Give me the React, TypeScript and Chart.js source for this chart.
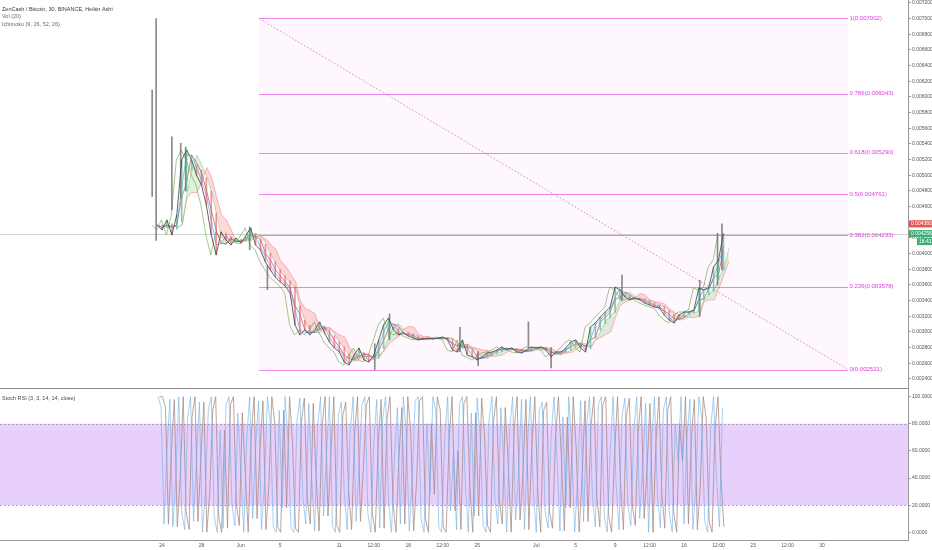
import React, { useEffect, useRef } from "react";
import { Chart, registerables } from "chart.js";
Chart.register(...registerables);

const FONT = '"Liberation Sans", Arial, sans-serif';

// ---- price data (Heikin Ashi closes, 12h sampling, day-of-May units) ----
const PRICE_START_DAY = 23.5;
const PRICE_STEP = 0.5;
const CLOSE = [
  0.004366, 0.004302, 0.00443, 0.004238, 0.004494, 0.005196, 0.005323, 0.005196, 0.005004, 0.004877,
  0.004621, 0.004238, 0.003983, 0.004277, 0.004174, 0.004111, 0.0042, 0.004136, 0.004226, 0.004328,
  0.004111, 0.004047, 0.003894, 0.003792, 0.003702, 0.003638, 0.003587, 0.003498, 0.00309, 0.002962,
  0.003026, 0.002962, 0.003026, 0.003128, 0.002987, 0.002872, 0.002796, 0.002745, 0.002617, 0.002579,
  0.002706, 0.002796, 0.002643, 0.002617, 0.002706, 0.002898, 0.00309, 0.003179, 0.003026, 0.002962,
  0.002987, 0.002949, 0.002923, 0.002898, 0.00291, 0.002923, 0.00291, 0.002923, 0.002936, 0.002898,
  0.00277, 0.002745, 0.002898, 0.002706, 0.002681, 0.002643, 0.002681, 0.002732, 0.002745, 0.00277,
  0.002809, 0.00277, 0.002796, 0.002745, 0.002732, 0.00277, 0.002809, 0.002796, 0.002809, 0.00277,
  0.002681, 0.002745, 0.002745, 0.002796, 0.002872, 0.002898, 0.002796, 0.002745, 0.003064, 0.003115,
  0.003191, 0.003255, 0.003319, 0.003574, 0.003536, 0.003447, 0.003409, 0.003434, 0.003409, 0.00337,
  0.003345, 0.003319, 0.003306, 0.003217, 0.003153, 0.003115, 0.003217, 0.003255, 0.003255, 0.003281,
  0.003562, 0.003536, 0.003562, 0.00383, 0.003919, 0.004256,
];
// notable wicks: [day, low, high]
const WICKS: [number, number, number][] = [
  [23.0, 0.00473, 0.00609],
  [23.4, 0.00417, 0.007],
  [25.0, 0.00456, 0.00549],
  [25.9, 0.0047, 0.00541],
  [26.4, 0.0048, 0.00536],
  [32.9, 0.00405, 0.00434],
  [34.7, 0.00354, 0.00385],
  [45.6, 0.00252, 0.00285],
  [47.1, 0.0029, 0.00323],
  [54.25, 0.00275, 0.00306],
  [56.1, 0.00257, 0.00275],
  [61.2, 0.0028, 0.00313],
  [63.5, 0.00254, 0.0028],
  [70.7, 0.0034, 0.00373],
  [78.6, 0.0032, 0.00366],
  [80.4, 0.0036, 0.00426],
  [80.85, 0.00379, 0.00438],
];

const FIB_LEVELS = [1, 0.786, 0.618, 0.5, 0.382, 0.236, 0];
const FIB_PRICES = [0.007002, 0.006043, 0.00529, 0.004761, 0.004233, 0.003578, 0.002521];
const FIB_FROM_DAY = 33.85;
const FIB_TO_DAY = 93.65;

const LAST_PRICE = 0.004256;
const HIGH_PRICE = 0.00438;
const COUNTDOWN = "18:41";

const PRICE_TICKS = [
  0.0024, 0.0026, 0.0028, 0.003, 0.0032, 0.0034, 0.0036, 0.0038, 0.004, 0.0042, 0.0044, 0.0046,
  0.0048, 0.005, 0.0052, 0.0054, 0.0056, 0.0058, 0.006, 0.0062, 0.0064, 0.0066, 0.0068, 0.007, 0.0072,
];

// ---- Stoch RSI %K ----
const STOCH_START_DAY = 23.6;
const STOCH_STEP = 0.3;
const STOCH_K = [
  100, 92, 6, 60, 98, 4, 40, 100, 15, 2,
  85, 100, 8, 55, 96, 0, 30, 90, 100, 12,
  0, 75, 3, 94, 100, 20, 5, 88, 45, 0,
  70, 100, 10, 62, 97, 2, 35, 100, 80, 4,
  0, 90, 18, 100, 66, 3, 0, 82, 99, 25,
  6, 95, 40, 1, 78, 100, 12, 58, 100, 5,
  0, 86, 96, 30, 2, 72, 100, 8, 48, 94,
  100, 14, 0, 65, 98, 3, 84, 100, 22, 0,
  55, 92, 6, 100, 74, 1, 38, 97, 100, 10,
  0, 80, 28, 100, 90, 4, 0, 68, 100, 16,
  60, 2, 95, 100, 35, 0, 88, 12, 99, 70,
  5, 0, 82, 100, 24, 6, 92, 50, 0, 76,
  100, 9, 44, 98, 2, 64, 100, 30, 0, 90,
  96, 15, 3, 70, 100, 55, 1, 85, 18, 100,
  62, 0, 40, 97, 8, 78, 100, 26, 4, 94,
  100, 12, 0, 58, 100, 36, 2, 86, 99, 20,
  5, 74, 100, 10, 48, 95, 0, 66, 100, 28,
  3, 90, 100, 15, 0, 80, 52, 100, 6, 70,
  98, 2, 34, 100, 84, 8, 0, 76, 100, 40,
  4, 92,
];
const STOCH_TICKS = [0, 20, 40, 60, 80, 100];
const STOCH_BAND = [20, 80];

const TIME_TICKS = [24, 28, 32, 36, 42, 45.5, 49, 52.5, 56, 62, 66, 70, 73.5, 77, 80.5, 84, 87.5, 91];
const TIME_LABELS = ["24", "28", "Jun", "5", "11", "12:00", "18", "12:00", "25", "Jul", "5", "9", "12:00", "16", "12:00", "23", "12:00", "30"];

const X_MIN = 7.55;
const X_MAX = 99.74;
const PRICE_MIN = 0.002285;
const PRICE_MAX = 0.007238;
const STOCH_MIN = -5.7;
const STOCH_MAX = 106.4;
const AXIS_W = 24;

function midRange(arr: number[], i: number, n: number) {
  let hi = -Infinity;
  let lo = Infinity;
  for (let k = Math.max(0, i - n + 1); k <= i; k++) {
    hi = Math.max(hi, arr[k]);
    lo = Math.min(lo, arr[k]);
  }
  return (hi + lo) / 2;
}

export default function App() {
  const topRef = useRef<HTMLCanvasElement>(null);
  const botRef = useRef<HTMLCanvasElement>(null);

  useEffect(() => {
    document.body.style.margin = "0";
    const days = CLOSE.map((_, i) => PRICE_START_DAY + i * PRICE_STEP);
    const SHIFT = 0.55;
    const opens: number[] = [];
    CLOSE.forEach((c, i) => {
      opens.push(i === 0 ? c : (opens[i - 1] + CLOSE[i - 1]) / 2);
    });
    const tenkan = CLOSE.map((_, i) => midRange(CLOSE, i, 2));
    const kijun = CLOSE.map((_, i) => midRange(CLOSE, i, 3));
    const spanA = CLOSE.map((_, i) => ({ x: days[i] + SHIFT, y: (tenkan[i] + kijun[i]) / 2 }));
    const spanB = CLOSE.map((_, i) => ({ x: days[i] + SHIFT, y: midRange(CLOSE, i, 5) }));

    const lineBase = { pointRadius: 0, borderWidth: 1, tension: 0, fill: false };

    const topPlugin = {
      id: "topDecor",
      beforeDatasetsDraw(chart: any) {
        const { ctx, chartArea, scales } = chart;
        const x = scales.x;
        const y = scales.y;
        const x1 = x.getPixelForValue(FIB_FROM_DAY);
        const x2 = x.getPixelForValue(FIB_TO_DAY);
        const yT = y.getPixelForValue(FIB_PRICES[0]);
        const yB = y.getPixelForValue(FIB_PRICES[FIB_PRICES.length - 1]);
        ctx.save();
        ctx.fillStyle = "rgba(236, 64, 236, 0.045)";
        ctx.fillRect(x1, yT, x2 - x1, yB - yT);
        const yl = Math.round(y.getPixelForValue(LAST_PRICE)) + 0.5;
        ctx.strokeStyle = "rgba(140,140,140,0.4)";
        ctx.lineWidth = 1;
        ctx.beginPath();
        ctx.moveTo(chartArea.left, yl);
        ctx.lineTo(chartArea.right, yl);
        ctx.stroke();
        ctx.strokeStyle = "rgba(232, 90, 232, 0.75)";
        FIB_PRICES.forEach((p) => {
          const yy = Math.round(y.getPixelForValue(p)) + 0.5;
          ctx.beginPath();
          ctx.moveTo(x1, yy);
          ctx.lineTo(x2, yy);
          ctx.stroke();
        });
        ctx.restore();
      },
      afterDatasetsDraw(chart: any) {
        const { ctx, scales } = chart;
        const x = scales.x;
        const y = scales.y;
        const x2 = x.getPixelForValue(FIB_TO_DAY);
        ctx.save();
        ctx.font = `6px ${FONT}`;
        ctx.fillStyle = "#e03ce0";
        ctx.textBaseline = "middle";
        ctx.textAlign = "left";
        FIB_PRICES.forEach((p, i) => {
          ctx.fillText(`${FIB_LEVELS[i]}(${p.toFixed(6)})`, x2 + 1.5, y.getPixelForValue(p));
        });
        ctx.restore();
      },
      afterDraw(chart: any) {
        const { ctx, scales, chartArea } = chart;
        const y = scales.y;
        const ax = chartArea.right;
        ctx.save();
        ctx.textBaseline = "middle";
        ctx.textAlign = "left";
        ctx.font = `5px ${FONT}`;
        const yh = y.getPixelForValue(HIGH_PRICE);
        ctx.fillStyle = "#ef5350";
        ctx.fillRect(ax + 1, yh - 3.5, AXIS_W - 1, 7);
        ctx.fillStyle = "#fff";
        ctx.fillText(HIGH_PRICE.toFixed(6), ax + 3, yh);
        const yp = y.getPixelForValue(LAST_PRICE);
        ctx.fillStyle = "#3dae78";
        ctx.fillRect(ax + 1, yp - 3.5, AXIS_W - 1, 7);
        ctx.fillRect(ax + 9, yp + 4.5, AXIS_W - 9, 7);
        ctx.fillStyle = "#fff";
        ctx.fillText(LAST_PRICE.toFixed(6), ax + 3, yp);
        ctx.fillText(COUNTDOWN, ax + 11, yp + 8);
        // legend
        ctx.font = `5.5px ${FONT}`;
        ctx.fillStyle = "#3a3a3a";
        ctx.fillText("ZenCash / Bitcoin, 30, BINANCE, Heikin Ashi", 2, 9);
        ctx.fillStyle = "#6a6a6a";
        ctx.fillText("Vol (20)", 2, 16.5);
        ctx.fillText("Ichimoku (9, 26, 52, 26)", 2, 24);
        ctx.restore();
      },
    };

    const top = new Chart(topRef.current as HTMLCanvasElement, {
      type: "line",
      data: {
        datasets: [
          {
            ...lineBase,
            label: "close",
            data: CLOSE.map((c, i) => ({ x: days[i], y: c })),
            borderColor: "rgba(70,75,70,0.85)",
            order: 0,
          },
          {
            type: "bar",
            label: "bodies",
            data: CLOSE.map((c, i) => ({ x: days[i], y: [opens[i], c] })),
            backgroundColor: CLOSE.map((c, i) => (c >= opens[i] ? "rgba(83,185,135,0.7)" : "rgba(235,77,92,0.6)")),
            barThickness: 1,
            grouped: false,
            borderWidth: 0,
            order: 1,
          } as any,
          {
            type: "bar",
            label: "wicks",
            data: WICKS.map((w) => ({ x: w[0], y: [w[1], w[2]] })),
            backgroundColor: "rgba(110,110,110,0.8)",
            barThickness: 1,
            grouped: false,
            borderWidth: 0,
            order: 2,
          } as any,
          {
            ...lineBase,
            label: "tenkan",
            data: tenkan.map((v, i) => ({ x: days[i], y: v })),
            borderColor: "rgba(33,150,243,0.55)",
            order: 3,
          },
          {
            ...lineBase,
            label: "kijun",
            data: kijun.map((v, i) => ({ x: days[i], y: v })),
            borderColor: "rgba(153,21,21,0.5)",
            order: 4,
          },
          {
            ...lineBase,
            label: "chikou",
            data: CLOSE.map((c, i) => ({ x: days[i] - SHIFT, y: c })),
            borderColor: "rgba(69,153,21,0.5)",
            order: 5,
          },
          {
            ...lineBase,
            label: "spanA",
            data: spanA,
            borderColor: "rgba(76,175,80,0.35)",
            fill: { target: "+1", above: "rgba(76,175,80,0.18)", below: "rgba(244,67,54,0.2)" },
            order: 6,
          },
          {
            ...lineBase,
            label: "spanB",
            data: spanB,
            borderColor: "rgba(244,67,54,0.35)",
            order: 7,
          },
          {
            ...lineBase,
            label: "trend",
            data: [
              { x: FIB_FROM_DAY, y: FIB_PRICES[0] },
              { x: FIB_TO_DAY, y: FIB_PRICES[FIB_PRICES.length - 1] },
            ],
            borderColor: "rgba(190,120,190,0.85)",
            borderDash: [1.5, 2],
            order: 8,
          },
        ],
      },
      options: {
        responsive: false,
        animation: false,
        devicePixelRatio: 1,
        layout: { padding: 0, autoPadding: false },
        plugins: { legend: { display: false }, tooltip: { enabled: false } },
        scales: {
          x: { type: "linear", min: X_MIN, max: X_MAX, offset: false, display: false },
          y: {
            type: "linear",
            position: "right",
            min: PRICE_MIN,
            max: PRICE_MAX,
            afterBuildTicks: (s: any) => {
              s.ticks = PRICE_TICKS.map((v) => ({ value: v }));
            },
            afterFit: (s: any) => {
              s.width = AXIS_W;
              s.paddingTop = 0;
              s.paddingBottom = 0;
            },
            ticks: {
              callback: (v: any) => Number(v).toFixed(6),
              font: { family: FONT, size: 5 },
              color: "#555",
              padding: 1,
              autoSkip: false,
            },
            grid: { drawOnChartArea: false, drawTicks: true, tickLength: 3, color: "#999" },
            border: { display: true, color: "#999" },
          },
        },
      } as any,
      plugins: [topPlugin],
    });

    const sDays = STOCH_K.map((_, i) => STOCH_START_DAY + i * STOCH_STEP);
    // %D drawn as the one-sample-delayed %K
    const stochD = STOCH_K.map((v, i) => (i === 0 ? v : STOCH_K[i - 1]));

    const botPlugin = {
      id: "botDecor",
      beforeDatasetsDraw(chart: any) {
        const { ctx, chartArea, scales } = chart;
        const y = scales.y;
        const yHi = y.getPixelForValue(STOCH_BAND[1]);
        const yLo = y.getPixelForValue(STOCH_BAND[0]);
        ctx.save();
        ctx.fillStyle = "#e7d0fb";
        ctx.fillRect(chartArea.left, yHi, chartArea.right - chartArea.left, yLo - yHi);
        ctx.strokeStyle = "rgba(120,120,130,0.6)";
        ctx.setLineDash([2, 2]);
        ctx.lineWidth = 1;
        [yHi, yLo].forEach((yy) => {
          const r = Math.round(yy) + 0.5;
          ctx.beginPath();
          ctx.moveTo(chartArea.left, r);
          ctx.lineTo(chartArea.right, r);
          ctx.stroke();
        });
        ctx.restore();
      },
      afterDraw(chart: any) {
        const { ctx, chartArea } = chart;
        ctx.save();
        ctx.strokeStyle = "#8a8a8a";
        ctx.lineWidth = 1;
        ctx.beginPath();
        ctx.moveTo(0, 0.5);
        ctx.lineTo(chartArea.right, 0.5);
        ctx.stroke();
        ctx.font = `5.5px ${FONT}`;
        ctx.fillStyle = "#4a4a4a";
        ctx.textBaseline = "middle";
        ctx.fillText("Stoch RSI (3, 3, 14, 14, close)", 2, 10);
        ctx.restore();
      },
    };

    const bot = new Chart(botRef.current as HTMLCanvasElement, {
      type: "line",
      data: {
        datasets: [
          {
            ...lineBase,
            label: "K",
            data: STOCH_K.map((v, i) => ({ x: sDays[i], y: v })),
            borderColor: "rgba(110,175,230,0.6)",
          },
          {
            ...lineBase,
            label: "D",
            data: stochD.map((v, i) => ({ x: sDays[i] + STOCH_STEP * 0.5, y: v })),
            borderColor: "rgba(165,135,125,0.75)",
          },
        ],
      },
      options: {
        responsive: false,
        animation: false,
        devicePixelRatio: 1,
        layout: { padding: 0, autoPadding: false },
        plugins: { legend: { display: false }, tooltip: { enabled: false } },
        scales: {
          x: {
            type: "linear",
            min: X_MIN,
            max: X_MAX,
            offset: false,
            afterBuildTicks: (s: any) => {
              s.ticks = TIME_TICKS.map((v) => ({ value: v }));
            },
            afterFit: (s: any) => {
              s.height = 10;
              s.paddingLeft = 0;
              s.paddingRight = 0;
            },
            ticks: {
              callback: (_v: any, i: number) => TIME_LABELS[i],
              font: { family: FONT, size: 5 },
              color: "#555",
              padding: 3,
              maxRotation: 0,
              autoSkip: false,
            },
            grid: { drawOnChartArea: false, drawTicks: false },
            border: { display: true, color: "#999" },
          },
          y: {
            type: "linear",
            position: "right",
            min: STOCH_MIN,
            max: STOCH_MAX,
            afterBuildTicks: (s: any) => {
              s.ticks = STOCH_TICKS.map((v) => ({ value: v }));
            },
            afterFit: (s: any) => {
              s.width = AXIS_W;
              s.paddingTop = 0;
              s.paddingBottom = 0;
            },
            ticks: {
              callback: (v: any) => Number(v).toFixed(4),
              font: { family: FONT, size: 5 },
              color: "#555",
              padding: 1,
              autoSkip: false,
            },
            grid: { drawOnChartArea: false, drawTicks: true, tickLength: 3, color: "#999" },
            border: { display: true, color: "#999" },
          },
        },
      } as any,
      plugins: [botPlugin],
    });

    return () => {
      top.destroy();
      bot.destroy();
    };
  }, []);

  return (
    <div style={{ position: "absolute", left: 0, top: 0, width: 932, height: 550, background: "#fff", overflow: "hidden" }}>
      <canvas ref={topRef} width={932} height={388} style={{ display: "block", width: 932, height: 388 }} />
      <canvas ref={botRef} width={932} height={162} style={{ display: "block", width: 932, height: 162 }} />
    </div>
  );
}
